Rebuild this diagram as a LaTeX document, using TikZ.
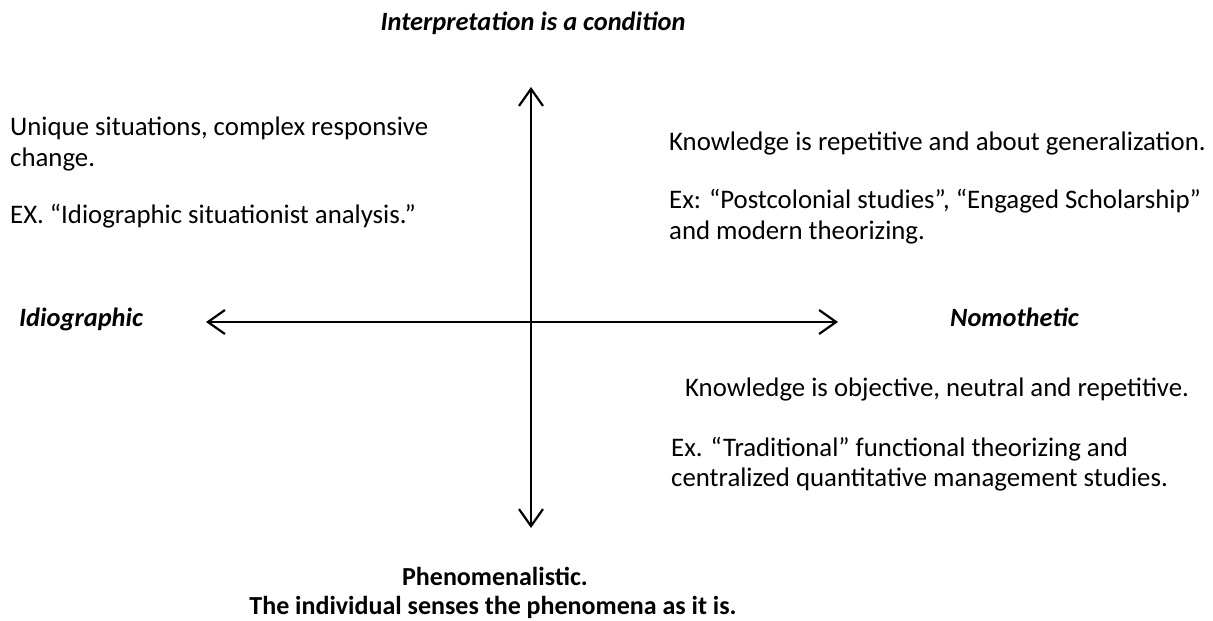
\documentclass[tikz,border=0pt]{standalone}
\usepackage{fontspec}
\setmainfont{Carlito}
\usetikzlibrary{arrows.meta}
\begin{document}
\begin{tikzpicture}[x=1pt,y=-1pt,
  txt/.style={inner sep=0pt, font=\fontsize{26.8}{30}\selectfont, anchor=base west},
  lbl/.style={inner sep=0pt, font=\fontsize{26.4}{30}\selectfont\bfseries\itshape, anchor=base},
  bld/.style={inner sep=0pt, font=\fontsize{26}{30}\selectfont\bfseries, anchor=base},
  axis/.style={line width=2.2pt, {Straight Barb[length=17pt,width=24pt,line width=2.2pt]}-{Straight Barb[length=17pt,width=24pt,line width=2.2pt]}}]
\useasboundingbox (0,0) rectangle (1213,621);
\coordinate (top) at (531,87);
\coordinate (bot) at (531,528);
\coordinate (lft) at (206,322);
\coordinate (rgt) at (838,322);
\draw[axis] (bot) -- (top);
\draw[axis] (lft) -- (rgt);
\node[lbl] (title) at (533,30) {Interpretation is a condition};
\node[lbl, anchor=base west] (idio) at (19,326) {Idiographic};
\node[lbl, anchor=base west] (nomo) at (950,326) {Nomothetic};
\node[txt] (l1) at (10,135) {Unique situations, complex responsive};
\node[txt] (l2) at (10,166) {change.};
\node[txt] (l3) at (10,223) {EX. “Idiographic situationist analysis.”};
\node[txt] (r1) at (669,150) {Knowledge is repetitive and about generalization.};
\node[txt] (r2) at (669,208) {Ex: “Postcolonial studies”, “Engaged Scholarship”};
\node[txt] (r3) at (669,239) {and modern theorizing.};
\node[txt] (s1) at (685,396) {Knowledge is objective, neutral and repetitive.};
\node[txt] (s2) at (671,456) {Ex. “Traditional” functional theorizing and};
\node[txt] (s3) at (671,486) {centralized quantitative management studies.};
\node[bld] (b1) at (495,585) {Phenomenalistic.};
\node[bld] (b2) at (493,614) {The individual senses the phenomena as it is.};
\end{tikzpicture}
\end{document}
